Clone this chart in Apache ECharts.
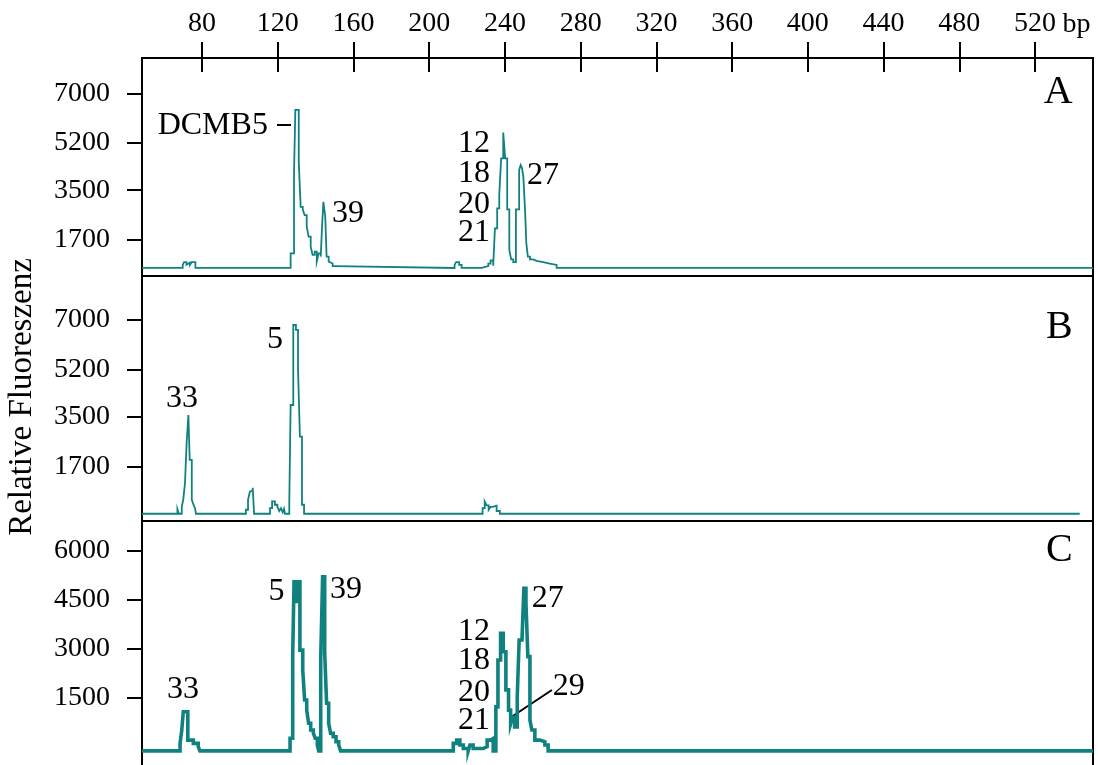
<!DOCTYPE html>
<html>
<head>
<meta charset="utf-8">
<script src="https://cdn.jsdelivr.net/npm/echarts@6/dist/echarts.min.js"></script>
<style>
  html, body { margin: 0; padding: 0; background: #fff; }
  #chart { width: 1098px; height: 765px; }
</style>
</head>
<body>
<div id="chart"></div>
<script>
// Fragment length axis (bp), shared by the three electropherograms
const bpTicks = [80, 120, 160, 200, 240, 280, 320, 360, 400, 440, 480, 520];
const bpRange = [48.3, 550.6];

// Fluorescence tick values per panel
const yTicksA = [1700, 3500, 5200, 7000];
const yTicksB = [1700, 3500, 5200, 7000];
const yTicksC = [1500, 3000, 4500, 6000];

// Panel A trace: each level starts at the given bp
const traceA_bp = [48.3, 69.8, 70.5, 71.8, 72.6, 73.6, 74.5, 76.5,
  126.8, 128.6, 129.3, 131.1, 132.1, 133.2, 134.2, 135.3, 136.3, 137.4, 138.4, 139.5, 140.6, 141.6, 142.7,
  143.4, 144.1, 145.1, 145.8, 146.9, 147.9, 149.0, 150.1,
  213.4, 214.2, 215.8, 217.1, 227.7, 231.2, 232.4, 233.8, 234.7, 235.9, 237.0, 238.0, 239.1, 240.1, 241.2,
  242.3, 243.3, 244.4, 245.8, 247.5, 248.3, 249.0, 249.7, 250.6, 251.3, 252.1, 253.2, 254.9, 256.7, 260.2,
  263.7, 267.3, 550.6];
const traceA_val = [690, 800, 900, 810, 880, 800, 900, 690,
  1220, 4170, 6400, 4530, 2900, 2800, 2600, 2180, 1820, 1460, 1160, 1280, 920, 1220, 1100,
  2180, 3080, 2540, 1100, 920, 850, 760, 690,
  800, 900, 800, 690, 760, 850, 960, 770, 2120, 2840, 3330, 4650, 5580, 4650, 2810,
  1340, 1000, 900, 2810, 4230, 4410, 4300, 4000, 2810, 1580, 1100, 1000, 950, 900, 850,
  800, 690, 690];

// Panel B trace
const traceB_bp = [48.3, 67.0, 67.8, 69.3, 70.1, 71.0, 71.9, 72.8, 73.5, 74.6, 75.4, 76.3, 76.8,
  103.2, 104.3, 105.3, 106.2, 106.8, 107.5,
  115.9, 117.0, 118.5, 119.8, 120.8, 121.7, 122.6, 123.3, 123.8,
  126.1, 126.8, 128.2, 129.6, 130.7, 131.7, 132.8, 133.9,
  228.2, 229.3, 230.3, 231.4, 232.4, 233.5, 235.6, 237.3, 543.6];
const traceB_val = [0, 170, 0, 250, 520, 1100, 2600, 3570, 1950, 500, 350, 200, 0,
  145, 500, 800, 850, 940, 0,
  205, 445, 325, 250, 100, 200, 50, 180, 0,
  445, 3930, 6820, 6640, 5255, 2784, 325, 0,
  205, 445, 300, 145, 250, 290, 100, 0, 0];

// Panel C trace
const traceC_bp = [48.3, 68.4, 69.3, 70.1, 72.5, 75.4, 78.0, 78.9,
  126.5, 127.9, 128.6, 129.8, 130.4, 131.7, 133.2, 134.2, 135.3, 136.3, 137.4, 138.8, 139.8, 140.9, 141.6,
  142.7, 143.7, 144.8, 145.8, 146.9, 147.9, 149.3, 150.8, 152.2, 153.2,
  212.7, 214.5, 216.2, 218.0, 220.6, 221.5, 223.2, 228.5, 230.6, 232.4, 233.8, 235.2, 236.3, 237.7, 239.1,
  240.5, 241.9, 243.0, 244.0, 245.1, 246.5, 247.5, 249.0, 250.0, 251.1, 252.1, 253.2, 254.2, 255.8, 258.5,
  261.1, 262.8, 550.6];
const traceC_val = [-130, 100, 500, 1070, 200, 100, 0, -130,
  255, 2810, 5060, 4400, 5060, 2960, 2350, 1430, 1120, 715, 510, 410, 255, 50, -130,
  2710, 5210, 2860, 1330, 715, 410, 300, 150, 50, -130,
  100, 200, 50, -60, -130, 50, -60, 0, 200, 250, -130, 1220, 2660, 3480, 2910,
  1740, 1120, 700, 900, 600, 1530, 3270, 3220, 4860, 4400, 2760, 816, 509, 200, 150,
  50, -130, -130];

// Peak annotations (panel index, bp, fluorescence, text, anchor)
const peakLabels = [
  [0, 114.8, 5819, 'DCMB5', 'right'],
  [0, 148.6, 2639, '39', 'left'],
  [0, 232.1, 5168, '12', 'right'],
  [0, 232.1, 4084, '18', 'right'],
  [0, 232.1, 2964, '20', 'right'],
  [0, 232.1, 1953, '21', 'right'],
  [0, 251.6, 4012, '27', 'left'],
  [1, 69.4, 4146, '33', 'center'],
  [1, 118.5, 6277, '5', 'center'],
  [2, 70.0, 1737, '33', 'center'],
  [2, 119.3, 4744, '5', 'center'],
  [2, 147.6, 4806, '39', 'left'],
  [2, 232.1, 3517, '12', 'right'],
  [2, 232.1, 2627, '18', 'right'],
  [2, 232.1, 1645, '20', 'right'],
  [2, 232.1, 785, '21', 'right'],
  [2, 254.2, 4530, '27', 'left'],
  [2, 265.3, 1829, '29', 'left']
];
const panelNames = [[0, 'A', 7011], [1, 'B', 6747], [2, 'C', 6033]];
const panelNameBp = 539.9;

// Leader lines (panel, bp1, val1, bp2, val2)
const leaders = [
  [0, 119.6, 5855, 127.0, 5855],
  [2, 242.6, 877, 264.8, 1737]
];

const FONT = "'Liberation Serif', 'Times New Roman', serif";
const TEAL = '#0f8280';

// Staircase vertices: each level holds from its bp until the next bp
const stairs = (xs, ys) => {
  const out = [[xs[0], ys[0]]];
  for (let i = 1; i < xs.length; i++) {
    out.push([xs[i], ys[i - 1]]);
    out.push([xs[i], ys[i]]);
  }
  return out;
};

const gridBase = { show: true, borderColor: '#000', borderWidth: 2, containLabel: false, outerBoundsMode: 'none', backgroundColor: 'transparent' };
const grids = [
  Object.assign({ left: 142, top: 58, width: 951, height: 218 }, gridBase),
  Object.assign({ left: 142, top: 276, width: 951, height: 245 }, gridBase),
  Object.assign({ left: 142, top: 521, width: 951, height: 270 }, gridBase)
];

const hiddenX = (gi) => ({
  type: 'value', gridIndex: gi, min: bpRange[0], max: bpRange[1], show: false
});

const xAxes = [
  {
    type: 'value', gridIndex: 0, position: 'top', min: bpRange[0], max: bpRange[1],
    axisLine: { show: true, lineStyle: { color: '#000', width: 2 } },
    axisTick: { show: true, inside: false, length: 16, customValues: bpTicks, lineStyle: { color: '#000', width: 2 } },
    axisLabel: { show: true, customValues: bpTicks, margin: 20, color: '#000', fontSize: 28, fontFamily: FONT,
      formatter: (v) => String(v) },
    splitLine: { show: false }
  },
  {
    type: 'value', gridIndex: 0, position: 'top', min: bpRange[0], max: bpRange[1],
    axisLine: { show: false },
    axisTick: { show: true, inside: true, length: 14, customValues: bpTicks, lineStyle: { color: '#000', width: 2 } },
    axisLabel: { show: false },
    splitLine: { show: false }
  },
  hiddenX(1),
  hiddenX(2)
];

const yAxis = (gi, min, max, ticks) => ({
  type: 'value', gridIndex: gi, min: min, max: max,
  axisLine: { show: true, lineStyle: { color: '#000', width: 2 } },
  axisTick: { show: true, inside: false, length: 15, customValues: ticks, lineStyle: { color: '#000', width: 2 } },
  axisLabel: { show: true, customValues: ticks, margin: 32, color: '#000', fontSize: 28, fontFamily: FONT,
    formatter: (v) => String(v) },
  splitLine: { show: false }
});

const yAxes = [
  yAxis(0, 400, 8275, yTicksA),
  yAxis(1, -262, 8590, yTicksB),
  yAxis(2, -1363, 6924, yTicksC)
];

const traceSeries = (xi, yi, data, width) => ({
  type: 'line', xAxisIndex: xi, yAxisIndex: yi, data: data,
  symbol: 'none', showSymbol: false, silent: true, sampling: null,
  lineStyle: { color: TEAL, width: width, join: 'miter' }, emphasis: { disabled: true }
});

const chart = echarts.init(document.getElementById('chart'), null, { renderer: 'canvas' });
chart.setOption({
  animation: false,
  backgroundColor: '#fff',
  grid: grids,
  xAxis: xAxes,
  yAxis: yAxes,
  series: [
    traceSeries(0, 0, stairs(traceA_bp, traceA_val), 1.8),
    traceSeries(2, 1, stairs(traceB_bp, traceB_val), 1.8),
    traceSeries(3, 2, stairs(traceC_bp, traceC_val), 3.6)
  ]
});

// Text and leader lines placed in data coordinates of each panel
const toPx = (panel, bp, v) => chart.convertToPixel({ gridIndex: panel }, [bp, v]);
const graphics = [];
peakLabels.forEach(([p, bp, v, text, align]) => {
  const [x, y] = toPx(p, bp, v);
  graphics.push({ type: 'text', x: x, y: y, silent: true,
    style: { text: text, fill: '#000', fontSize: 32, fontFamily: FONT, align: align, verticalAlign: 'middle' } });
});
panelNames.forEach(([p, text, v]) => {
  const [x, y] = toPx(p, panelNameBp, v);
  graphics.push({ type: 'text', x: x, y: y, silent: true,
    style: { text: text, fill: '#000', fontSize: 40, fontFamily: FONT, align: 'right', verticalAlign: 'middle' } });
});
leaders.forEach(([p, b1, v1, b2, v2]) => {
  const [x1, y1] = toPx(p, b1, v1);
  const [x2, y2] = toPx(p, b2, v2);
  graphics.push({ type: 'line', silent: true, shape: { x1: x1, y1: y1, x2: x2, y2: y2 },
    style: { stroke: '#000', lineWidth: 2 } });
});
// Unit after the last tick label
const [unitX] = toPx(0, 534.5, 0);
graphics.push({ type: 'text', x: unitX, y: 25, silent: true,
  style: { text: 'bp', fill: '#000', fontSize: 28, fontFamily: FONT, align: 'left', verticalAlign: 'middle' } });
// Shared y-axis title
graphics.push({ type: 'text', x: 22, y: 397, rotation: Math.PI / 2, silent: true,
  style: { text: 'Relative Fluoreszenz', fill: '#000', fontSize: 33, fontFamily: FONT, align: 'center', verticalAlign: 'middle' } });

chart.setOption({ graphic: graphics });
</script>
</body>
</html>
